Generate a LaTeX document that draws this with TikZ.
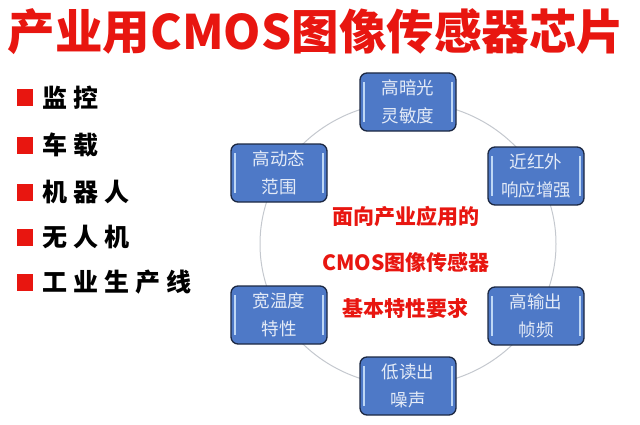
\documentclass[tikz,border=0pt]{standalone}
\usepackage{fontspec}
\usepackage{tikz}
\usetikzlibrary{calc,positioning}
\newfontfamily\cjk{Noto Sans CJK SC}

\definecolor{titlered}{RGB}{232,22,16}
\definecolor{boxblue}{RGB}{78,121,199}
\definecolor{boxedge}{RGB}{28,40,66}
\definecolor{boxlight}{RGB}{190,215,245}
\definecolor{ringgray}{RGB}{196,200,206}

\tikzset{
  feature/.style={draw=boxedge, line width=1.3pt, fill=boxblue,
    rounded corners=7pt, minimum width=96pt, minimum height=58pt,
    align=center, text=white!85!boxblue,
    font=\cjk\fontsize{17.5}{28}\selectfont,
    path picture={
      \draw[boxlight, line width=1.4pt]
        ([shift={(4pt,-9pt)}]path picture bounding box.north west)
        -- ([shift={(4pt,9pt)}]path picture bounding box.south west);
      \draw[boxlight, line width=1.4pt]
        ([shift={(-4pt,-9pt)}]path picture bounding box.north east)
        -- ([shift={(-4pt,9pt)}]path picture bounding box.south east);
    }},
  ring/.style={ringgray, line width=1pt},
  bullet/.style={fill=titlered, minimum width=16pt, minimum height=17pt, inner sep=0pt},
  itemtext/.style={anchor=west, inner sep=0pt,
    font=\cjk\bfseries\fontsize{25}{25}\selectfont\addfontfeatures{LetterSpace=24}},
  goal/.style={text=titlered, font=\cjk\bfseries\fontsize{21}{21}\selectfont}
}

\begin{document}
\begin{tikzpicture}[x=1pt,y=1pt]
  \useasboundingbox (0,0) rectangle (640,424);

  % title
  \node[text=titlered, font=\cjk\bfseries\fontsize{47.5}{48}\selectfont]
    (title) at (316,392) {产业用CMOS图像传感器芯片};

  % application list
  \node[bullet] (b1) at (25,326) {};
  \node[bullet] (b2) at (25,279) {};
  \node[bullet] (b3) at (25,232) {};
  \node[bullet] (b4) at (25,187) {};
  \node[bullet] (b5) at (25,142) {};
  \node[itemtext, right=9pt of b1] (monitor) {监控};
  \node[itemtext, right=9pt of b2] (vehicle) {车载};
  \node[itemtext, right=9pt of b3] (robot) {机器人};
  \node[itemtext, right=9pt of b4] (drone) {无人机};
  \node[itemtext, right=9pt of b5] (line) {工业生产线};

  % feature ring
  \coordinate (Center) at (408,180);
  \draw[ring] (Center) ellipse [x radius=148, y radius=142];
  \node[feature] (sens)  at ($(Center)+(0,142)$)    {高暗光\\灵敏度};
  \node[feature] (nir)   at ($(Center)+(128,68)$)   {近红外\\响应增强};
  \node[feature] (fps)   at ($(Center)+(128,-72)$)  {高输出\\帧频};
  \node[feature] (noise) at ($(Center)+(0,-142)$)   {低读出\\噪声};
  \node[feature] (temp)  at ($(Center)+(-129,-71)$) {宽温度\\特性};
  \node[feature] (hdr)   at ($(Center)+(-129,71)$)  {高动态\\范围};

  % centre text
  \node[goal] (goal1) at (406,207) {面向产业应用的};
  \node[goal] (goal2) at (406,162) {CMOS图像传感器};
  \node[goal] (goal3) at (405,116) {基本特性要求};

\end{tikzpicture}
\end{document}
